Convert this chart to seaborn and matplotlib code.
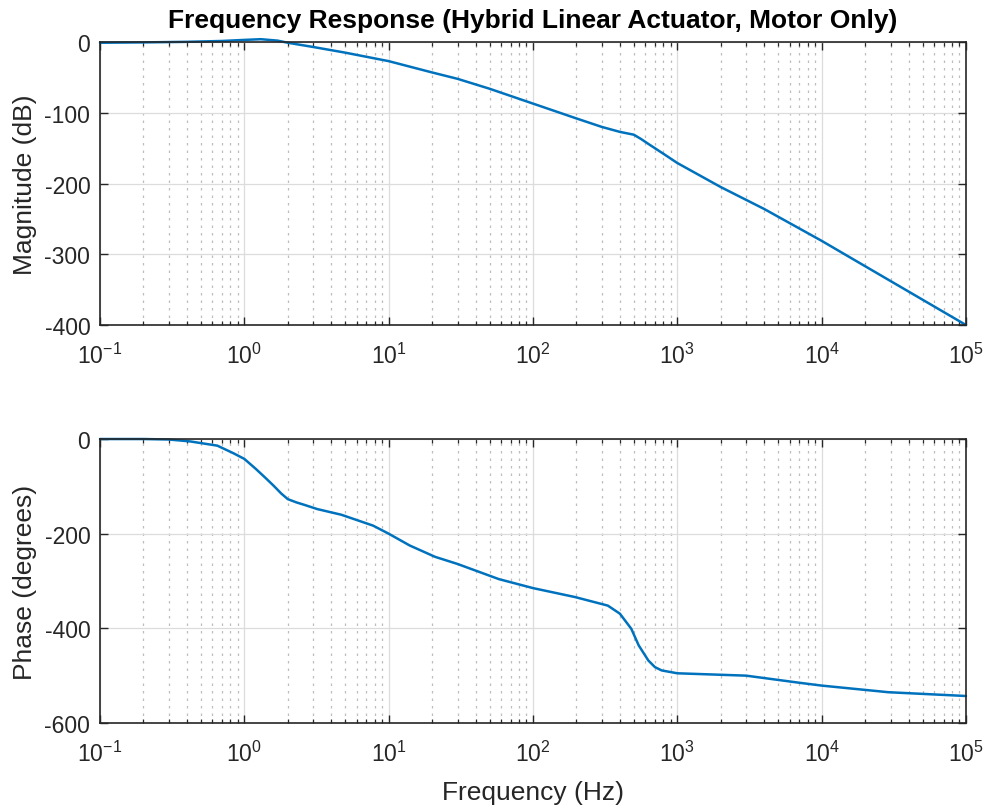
import numpy as np
import pandas as pd
import seaborn as sns
import matplotlib.pyplot as plt
from matplotlib.ticker import FixedLocator, LogLocator, NullFormatter

# Magnitude readings (Hz, dB)
mag_freq = [0.1, 0.2, 0.4, 0.7, 1.0, 1.3, 1.7, 2.0, 3.0, 5.0, 10, 20, 30, 50,
            100, 200, 300, 400, 500, 560, 630, 830, 1000, 2000, 4000, 10000,
            15600, 100000]
mag_db = [-1, -0.5, 0.3, 1.5, 3, 4, 2, -1, -7, -15, -27, -43, -52, -66,
          -87, -108, -120, -127, -131, -137, -144, -160, -171, -205, -236, -281,
          -304, -400]

# Phase readings (Hz, degrees)
ph_freq = [0.1, 0.2, 0.3, 0.42, 0.65, 0.84, 1.0, 1.2, 1.4, 1.6, 1.8, 2.0, 2.3,
           2.6, 3.2, 4.7, 7.8, 10, 14, 21, 30, 58, 100, 196, 330, 400, 480, 540,
           630, 700, 780, 1000, 3000, 7000, 10000, 29000, 100000]
ph_deg = [0, 0, -1, -5, -14, -30, -42, -63, -82, -99, -115, -127, -134,
          -139, -148, -160, -183, -200, -225, -249, -264, -296, -315, -334,
          -352, -369, -401, -436, -468, -482, -489, -495, -500, -515, -521,
          -535, -543]

mag_ticks = [0, -100, -200, -300, -400]
ph_ticks = [0, -200, -400, -600]
decades = [0.1, 1, 10, 100, 1000, 10000, 100000]

sns.set_style("ticks")
plt.rcParams['font.family'] = ['Liberation Sans', 'DejaVu Sans']
plt.rcParams['mathtext.fontset'] = 'custom'
plt.rcParams['mathtext.rm'] = 'Liberation Sans'
plt.rcParams['mathtext.it'] = 'Liberation Sans'
plt.rcParams['mathtext.bf'] = 'Liberation Sans:bold'
plt.rcParams['axes.unicode_minus'] = False

dark = '#262626'
blue = '#0072BD'
fs_tick = 16.5
fs_lab = 19

df_mag = pd.DataFrame({"f": mag_freq, "v": mag_db})
df_ph = pd.DataFrame({"f": ph_freq, "v": ph_deg})

fig = plt.figure(figsize=(9.94, 8.12), dpi=100)
ax1 = fig.add_axes([0.1006, 0.5985, 0.8712, 0.3485])
ax2 = fig.add_axes([0.1006, 0.1084, 0.8712, 0.3497])


def style_axis(ax, ylim, yticks):
    ax.set_xscale('log')
    ax.set_xlim(0.1, 1e5)
    ax.set_ylim(*ylim)
    ax.set_yticks(yticks)
    ax.xaxis.set_major_locator(FixedLocator(decades))
    ax.set_xticklabels([r'$\mathdefault{10^{%d}}$' % int(round(np.log10(d))) for d in decades])
    ax.xaxis.set_minor_locator(LogLocator(base=10, subs=np.arange(2, 10), numticks=20))
    ax.xaxis.set_minor_formatter(NullFormatter())
    ax.grid(True, which='major', color='#dcdcdc', linewidth=0.9, linestyle='-')
    ax.grid(True, which='minor', axis='x', color='#bdbdbd', linewidth=0.9,
            linestyle=(0, (2, 4)))
    ax.set_axisbelow(True)
    for s in ax.spines.values():
        s.set_visible(True)
        s.set_color(dark)
        s.set_linewidth(1.2)
    ax.tick_params(which='both', direction='in', top=True, right=True,
                   colors=dark, labelcolor=dark, labelsize=fs_tick)
    ax.tick_params(which='major', length=6, width=1.0)
    ax.tick_params(axis='x', which='major', pad=13)
    ax.tick_params(axis='y', which='major', pad=7)
    ax.tick_params(which='minor', length=3, width=0.9)
    ax.set_xlabel('')
    ax.set_ylabel('')


sns.lineplot(data=df_mag, x="f", y="v", ax=ax1, color=blue, linewidth=1.8,
             estimator=None, sort=False, clip_on=False)
style_axis(ax1, (-400, 0), mag_ticks)
ax1.set_ylabel('Magnitude (dB)', fontsize=fs_lab, color=dark, labelpad=5)
ax1.set_title('Frequency Response (Hybrid Linear Actuator, Motor Only)',
              fontsize=fs_lab, fontweight='bold', color='black', pad=11)

sns.lineplot(data=df_ph, x="f", y="v", ax=ax2, color=blue, linewidth=1.8,
             estimator=None, sort=False, clip_on=False)
style_axis(ax2, (-600, 0), ph_ticks)
ax2.set_ylabel('Phase (degrees)', fontsize=fs_lab, color=dark, labelpad=5)
ax2.set_xlabel('Frequency (Hz)', fontsize=fs_lab, color=dark, labelpad=10)

fig.savefig('out.png', dpi=100, facecolor='white')
